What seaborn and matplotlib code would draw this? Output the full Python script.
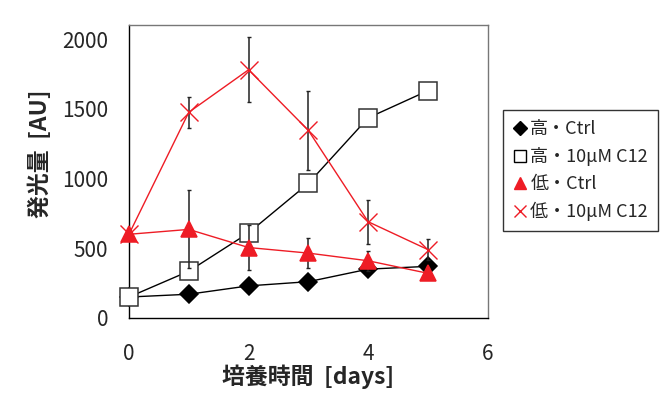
import numpy as np
import pandas as pd
import matplotlib
matplotlib.use('Agg')
import matplotlib.pyplot as plt
import seaborn as sns
from matplotlib.lines import Line2D

days = [0, 1, 2, 3, 4, 5]
hi_ctrl = [150, 170, 230, 260, 350, 370]
hi_c12 = [150, 335, 610, 965, 1435, 1630]
lo_ctrl = [600, 635, 505, 465, 410, 320]
lo_c12 = [600, 1475, 1780, 1345, 690, 490]
hi_ctrl_err = [10, 15, 20, 20, 30, 25]
hi_c12_err = [20, 40, 60, 50, 40, 30]
lo_ctrl_err = [30, 280, 160, 105, 70, 40]
lo_c12_err = [30, 110, 232, 282, 158, 75]
labels = ['高・Ctrl', '高・10μM C12', '低・Ctrl', '低・10μM C12']

sns.set_style('white')
plt.rcParams['font.family'] = ['Noto Sans CJK JP', 'DejaVu Sans']

fig = plt.figure(figsize=(6.7, 3.93), dpi=100)
ax = fig.add_axes([0.1925, 0.191, 0.5355, 0.745])

# (values, errors, marker, size, face, edge, line color, zorder)
styles = [
    (hi_ctrl, hi_ctrl_err, 'D', 9.5, 'black', 'black', 'black', 3),
    (hi_c12, hi_c12_err, 's', 12.5, 'white', '#333333', 'black', 4),
    (lo_c12, lo_c12_err, 'x', 13, '#ee1c25', '#ee1c25', '#ee1c25', 5),
    (lo_ctrl, lo_ctrl_err, '^', 12, '#ee1c25', '#ee1c25', '#ee1c25', 6),
]
for vals, errs, mk, ms, fc, ec, lc, z in styles:
    ax.errorbar(days, vals, yerr=errs, fmt='none', ecolor='#222222',
                elinewidth=1.1, capsize=1.5, capthick=1, zorder=z - 0.5)
    sns.lineplot(x=days, y=vals, ax=ax, color=lc, linewidth=1,
                 marker=mk, markersize=ms, markerfacecolor=fc,
                 markeredgecolor=ec, markeredgewidth=1.1 if mk != 'x' else 1,
                 zorder=z, clip_on=False)

ax.set_xlim(0, 6)
ax.set_ylim(0, 2100)
ax.set_xticks([0, 2, 4, 6])
ax.set_yticks([0, 500, 1000, 1500, 2000])
ax.tick_params(direction='in', length=5, width=1, labelsize=15)
ax.tick_params(axis='y', pad=15)
ax.tick_params(axis='x', pad=18)
for s in ['left', 'bottom']:
    ax.spines[s].set_color('black')
for s in ['top', 'right']:
    ax.spines[s].set_color('#777777')
for s in ax.spines.values():
    s.set_linewidth(1)

ax.set_xlabel('培養時間  [days]', fontsize=16.5, fontweight='bold', labelpad=0)
ax.set_ylabel('発光量  [AU]', fontsize=16.5, fontweight='bold')
ax.yaxis.set_label_coords(-0.215, 0.56)

handles = [
    Line2D([], [], linestyle='none', marker='D', markersize=7, color='black'),
    Line2D([], [], linestyle='none', marker='s', markersize=8,
           markerfacecolor='white', markeredgecolor='black'),
    Line2D([], [], linestyle='none', marker='^', markersize=8, color='#ee1c25'),
    Line2D([], [], linestyle='none', marker='x', markersize=9, color='#ee1c25'),
]
leg = fig.legend(handles, labels, loc='upper left',
                 bbox_to_anchor=(0.751, 0.72), fontsize=13, frameon=True,
                 fancybox=False, edgecolor='black', handlelength=0.8,
                 handletextpad=0.15, borderpad=0.55, labelspacing=0.5,
                 borderaxespad=0)
leg.get_frame().set_linewidth(1)

plt.savefig('out.png', dpi=100)
